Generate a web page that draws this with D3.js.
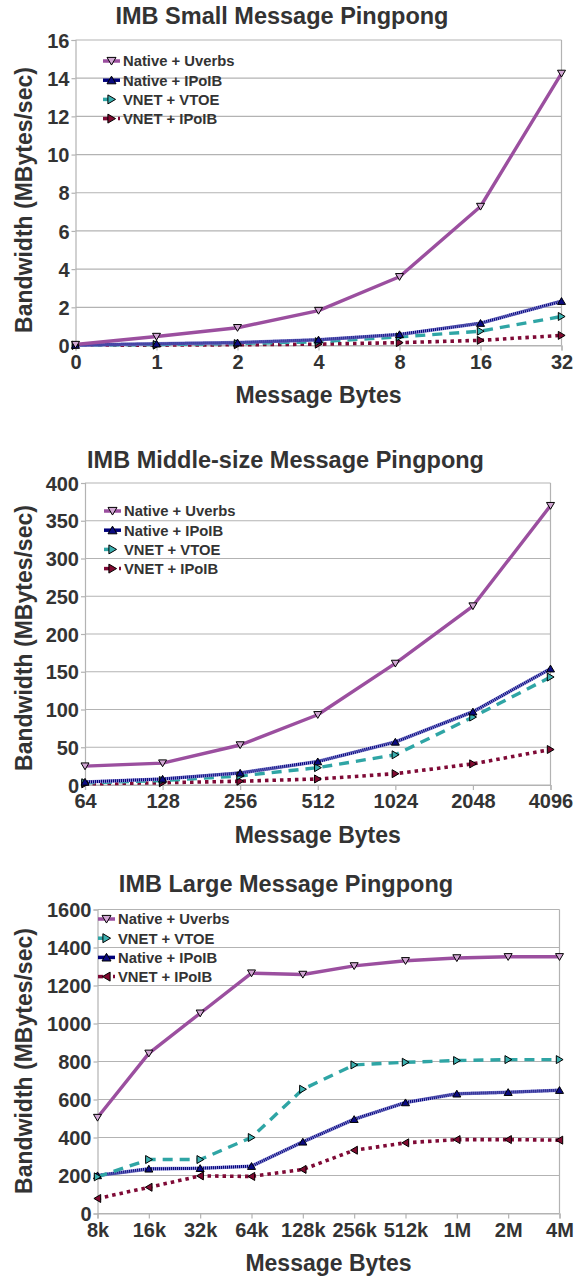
<!DOCTYPE html>
<html><head><meta charset="utf-8">
<script src="https://cdn.jsdelivr.net/npm/d3@7"></script>
<style>body{margin:0;background:#fff}svg{display:block}</style>
</head><body>
<svg id="c" width="576" height="1278"></svg>
<script>
// ---- Data ----
const smallCats = ["0","1","2","4","8","16","32"];
const smallUverbs = [0.05,0.47,0.93,1.83,3.6,7.28,14.25];
const smallNativeIPoIB = [0.02,0.09,0.15,0.3,0.58,1.17,2.32];
const smallVTOE = [0.01,0.05,0.1,0.2,0.45,0.75,1.52];
const smallVnetIPoIB = [0.01,0.02,0.04,0.07,0.15,0.27,0.53];
const smallTicks = [0,2,4,6,8,10,12,14,16];

const midCats = ["64","128","256","512","1024","2048","4096"];
const midUverbs = [25,29,53,93,161,237,370];
const midNativeIPoIB = [4,8,16,31,57,97,154];
const midVTOE = [3,6,12,23,40,90,143];
const midVnetIPoIB = [1.5,3,5,8,15,28,47];
const midTicks = [0,50,100,150,200,250,300,350,400];

const largeCats = ["8k","16k","32k","64k","128k","256k","512k","1M","2M","4M"];
const largeUverbs = [505,843,1054,1265,1258,1303,1330,1345,1351,1351];
const largeVTOE = [193,284,284,400,654,782,796,805,810,810];
const largeNativeIPoIB = [200,235,238,249,377,496,584,630,638,649];
const largeVnetIPoIB = [79,138,198,195,232,333,372,389,389,386];
const largeTicks = [0,200,400,600,800,1000,1200,1400,1600];

const titles = ["IMB Small Message Pingpong","IMB Middle-size Message Pingpong","IMB Large Message Pingpong"];
const xTitle = "Message Bytes";
const yTitle = "Bandwidth (MBytes/sec)";
const nUverbs = "Native + Uverbs", nIPoIB = "Native + IPoIB", vVTOE = "VNET + VTOE", vIPoIB = "VNET + IPoIB";

// ---- Styles ----
const styles = {
  uverbs: {color:"#9b4f9f", marker:"down", fill:"#d2a8d4"},
  nipoib: {color:"#00007a", marker:"up", fill:"#0a0a80"},
  vtoe: {color:"#2fa5a5", marker:"right", fill:"#3bb0b0"},
  vipoib: {color:"#7f0a36", marker:"right", fill:"#800a30"}
};

const svg = d3.select("#c");
const FONT = "'Liberation Sans', Arial, sans-serif";
const TXT = "#333";

function tri(type, s){
  const h = s;
  if(type==="down") return `M${-h},${-h*0.8}L${h},${-h*0.8}L0,${h*0.9}Z`;
  if(type==="up") return `M${-h},${h*0.8}L${h},${h*0.8}L0,${-h*0.9}Z`;
  if(type==="right") return `M${-h*0.8},${-h}L${-h*0.8},${h}L${h*0.9},0Z`;
  return `M${h*0.8},${-h}L${h*0.8},${h}L${-h*0.9},0Z`;
}

function drawLine(g, pts, key){
  const st = styles[key];
  const line = d3.line().x(d=>d[0]).y(d=>d[1]);
  if(key==="uverbs"){
    g.append("path").attr("d",line(pts)).attr("fill","none").attr("stroke",st.color).attr("stroke-width",3.4).attr("stroke-linejoin","round");
  } else if(key==="nipoib"){
    g.append("path").attr("d",line(pts)).attr("fill","none").attr("stroke","#8c8cd2").attr("stroke-width",3.6);
    g.append("path").attr("d",line(pts)).attr("fill","none").attr("stroke",st.color).attr("stroke-width",3).attr("stroke-dasharray","1,1");
  } else if(key==="vtoe"){
    g.append("path").attr("d",line(pts)).attr("fill","none").attr("stroke",st.color).attr("stroke-width",3.4).attr("stroke-dasharray","10,7");
  } else {
    g.append("path").attr("d",line(pts)).attr("fill","none").attr("stroke",st.color).attr("stroke-width",3.6).attr("stroke-dasharray","3.5,4");
  }
}

function drawMarkers(g, pts, key, dir){
  const st = styles[key];
  g.selectAll(null).data(pts).enter().append("path")
    .attr("transform",d=>`translate(${d[0]},${d[1]})`)
    .attr("d",tri(dir||st.marker,4))
    .attr("fill",st.fill).attr("stroke","#000").attr("stroke-width",1);
}

function legendSample(g, key, x, y, dir){
  const st = styles[key];
  if(key==="vtoe"){
    g.append("line").attr("x1",x).attr("x2",x+5).attr("y1",y).attr("y2",y).attr("stroke",st.color).attr("stroke-width",3.5);
  } else if(key==="vipoib"){
    g.append("line").attr("x1",x).attr("x2",x+5).attr("y1",y).attr("y2",y).attr("stroke",st.color).attr("stroke-width",3.5);
    g.append("line").attr("x1",x+15).attr("x2",x+17).attr("y1",y).attr("y2",y).attr("stroke",st.color).attr("stroke-width",3.5);
  } else {
    g.append("line").attr("x1",x).attr("x2",x+17).attr("y1",y).attr("y2",y).attr("stroke",st.color).attr("stroke-width",3.5);
  }
  g.append("path").attr("transform",`translate(${x+8.5},${y})`).attr("d",tri(dir||st.marker,4.5))
    .attr("fill",st.fill).attr("stroke","#000").attr("stroke-width",1);
}

function chart(cfg){
  const g = svg.append("g");
  const x = d3.scalePoint().domain(cfg.cats).range([cfg.x0,cfg.x1]);
  const y = d3.scaleLinear().domain([cfg.ticks[0],cfg.ticks[cfg.ticks.length-1]]).range([cfg.y0,cfg.y1]);
  // gridlines
  g.selectAll(null).data(cfg.ticks).enter().append("line")
    .attr("x1",cfg.x0).attr("x2",cfg.x1).attr("y1",d=>y(d)).attr("y2",d=>y(d))
    .attr("stroke","#b3b3b3").attr("stroke-width",1.2);
  g.append("line").attr("x1",cfg.x1).attr("x2",cfg.x1).attr("y1",cfg.y1).attr("y2",cfg.y0).attr("stroke","#b3b3b3").attr("stroke-width",1.2);
  // axes
  const ya = d3.axisLeft(y).tickValues(cfg.ticks).tickFormat(d3.format("d")).tickSize(4).tickPadding(2);
  const yg = g.append("g").attr("transform",`translate(${cfg.x0},0)`).call(ya);
  const xa = d3.axisBottom(x).tickSize(5).tickPadding(4);
  const xg = g.append("g").attr("transform",`translate(0,${cfg.y0})`).call(xa);
  [yg,xg].forEach(a=>{
    a.select(".domain").attr("stroke","#b3b3b3").attr("stroke-width",1.2);
    a.selectAll(".tick line").attr("stroke","#b3b3b3").attr("stroke-width",1.2);
    a.selectAll("text").attr("fill",TXT).style("font-family",FONT).style("font-size","20px").style("font-weight","bold");
  });
  yg.selectAll("text").attr("dy","0.36em");
  xg.selectAll("text").attr("y",23).attr("dy",0);
  // titles
  g.append("text").attr("x",cfg.tx).attr("y",cfg.ty).attr("text-anchor","middle")
    .style("font-family",FONT).style("font-size","23.5px").style("font-weight","bold").attr("fill",TXT).text(cfg.title);
  g.append("text").attr("x",(cfg.x0+cfg.x1)/2).attr("y",cfg.y0+57.5).attr("text-anchor","middle")
    .style("font-family",FONT).style("font-size","23px").style("font-weight","bold").attr("fill",TXT).text(xTitle);
  g.append("text").attr("transform",`translate(32,${cfg.yc}) rotate(-90)`).attr("text-anchor","middle")
    .style("font-family",FONT).style("font-size","23px").style("font-weight","bold").attr("fill",TXT).text(yTitle);
  // series
  const lg = g.append("g");
  cfg.series.forEach(s=>{
    const pts = s.vals.map((v,i)=>[x(cfg.cats[i]), y(v)]);
    drawLine(lg, pts, s.key);
  });
  cfg.series.forEach(s=>{
    const pts = s.vals.map((v,i)=>[x(cfg.cats[i]), y(v)]);
    drawMarkers(lg, pts, s.key, s.dir);
  });
  // legend
  cfg.legend.forEach((s,i)=>{
    const yy = cfg.ly + i*19.2;
    legendSample(g, s.key, cfg.lx, yy, s.dir);
    g.append("text").attr("x",cfg.lx+20).attr("y",yy).attr("dy","0.36em")
      .style("font-family",FONT).style("font-size","14.8px").style("font-weight","bold").attr("fill",TXT).text(s.name);
  });
}

chart({cats:smallCats, ticks:smallTicks, x0:75.5, x1:561.5, y0:345.5, y1:40, tx:282, ty:23.5, yc:200, title:titles[0],
  series:[{key:"vipoib",vals:smallVnetIPoIB},{key:"vtoe",vals:smallVTOE},{key:"nipoib",vals:smallNativeIPoIB},{key:"uverbs",vals:smallUverbs}],
  legend:[{key:"uverbs",name:nUverbs},{key:"nipoib",name:nIPoIB},{key:"vtoe",name:vVTOE},{key:"vipoib",name:vIPoIB}],
  lx:103, ly:61});

chart({cats:midCats, ticks:midTicks, x0:85, x1:550.5, y0:785, y1:483, tx:285.5, ty:467.5, yc:638, title:titles[1],
  series:[{key:"vipoib",vals:midVnetIPoIB},{key:"vtoe",vals:midVTOE},{key:"nipoib",vals:midNativeIPoIB},{key:"uverbs",vals:midUverbs}],
  legend:[{key:"uverbs",name:nUverbs},{key:"nipoib",name:nIPoIB},{key:"vtoe",name:vVTOE},{key:"vipoib",name:vIPoIB}],
  lx:104, ly:511});

chart({cats:largeCats, ticks:largeTicks, x0:97.5, x1:559.5, y0:1213.5, y1:909.5, tx:286, ty:892, yc:1061, title:titles[2],
  series:[{key:"vipoib",vals:largeVnetIPoIB,dir:"left"},{key:"nipoib",vals:largeNativeIPoIB},{key:"vtoe",vals:largeVTOE},{key:"uverbs",vals:largeUverbs}],
  legend:[{key:"uverbs",name:nUverbs},{key:"vtoe",name:vVTOE},{key:"nipoib",name:nIPoIB},{key:"vipoib",name:vIPoIB,dir:"left"}],
  lx:98, ly:919});
</script>
</body></html>
